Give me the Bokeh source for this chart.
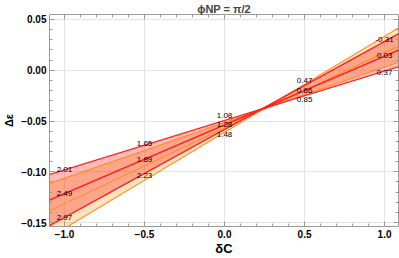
import numpy as np
from bokeh.plotting import figure
from bokeh.models import Range1d, FixedTicker, CustomJSTickFormatter, LinearAxis
from bokeh.embed import file_html
from bokeh.resources import INLINE
from bokeh.core.properties import value

# ---- data ----
dC = [-1.1, 1.1]
red_upper = [-0.1029, 0.0040]     # upper red line at the left end
red_mid = [-0.1282, 0.0206]
red_lower = [-0.1535, 0.0370]
orange_upper = [-0.1118, 0.0086]
orange_mid = [-0.1388, 0.0249]
orange_lower = [-0.1650, 0.0428]

label_dC = [-1.0, -0.5, 0.0, 0.5, 1.0]
row1_text = ["2.01", "1.65", "1.08", "0.47", "-0.31"]
row1_y = [-0.0981, -0.0721, -0.0442, -0.0106, 0.0298]
row2_text = ["2.49", "1.89", "1.28", "0.66", "0.03"]
row2_y = [-0.1212, -0.0880, -0.0538, -0.0197, 0.0141]
row3_text = ["2.97", "2.23", "1.48", "0.85", "0.37"]
row3_y = [-0.1447, -0.1034, -0.0635, -0.0293, -0.0019]

x_ticks = [-1.0, -0.5, 0.0, 0.5, 1.0]
y_ticks = [-0.15, -0.10, -0.05, 0.0, 0.05]
x_minor = [round(v, 2) for v in np.arange(-1.1, 1.11, 0.1)]
y_minor = [round(v, 3) for v in np.arange(-0.15, 0.051, 0.01)]

FRAME = "#9a9a9a"
RED = "#ff1a1a"
ORANGE = "#ff8c1a"

p = figure(width=399, height=258, title="ϕNP = π/2",
           x_range=Range1d(-1.0935, 1.087), y_range=Range1d(-0.1538, 0.0548),
           output_backend="svg", toolbar_location=None,
           min_border_left=47, min_border_right=1, min_border_top=0, min_border_bottom=0)
p.background_fill_color = "white"
p.border_fill_color = "white"
p.outline_line_color = FRAME

p.title.text_font = "Liberation Sans"
p.title.text_font_style = "bold"
p.title.text_font_size = "11px"
p.title.align = "center"
p.title.standoff = 0
p.title.offset = 0

fmt_x = CustomJSTickFormatter(code="return tick.toFixed(1).replace('-', '\\u2212');")
fmt_y = CustomJSTickFormatter(code="return tick.toFixed(2).replace('-', '\\u2212');")
empty = CustomJSTickFormatter(code="return '';")

xa = p.below[0]
ya = p.left[0]
xa.ticker = FixedTicker(ticks=x_ticks, minor_ticks=x_minor)
ya.ticker = FixedTicker(ticks=y_ticks, minor_ticks=y_minor)
xa.formatter = fmt_x
ya.formatter = fmt_y

top = LinearAxis(ticker=FixedTicker(ticks=x_ticks, minor_ticks=x_minor), formatter=empty)
right = LinearAxis(ticker=FixedTicker(ticks=y_ticks, minor_ticks=y_minor), formatter=empty)
p.add_layout(top, "above")
p.add_layout(right, "right")

for ax in (xa, ya, top, right):
    ax.axis_line_color = None
    ax.major_tick_in = 5
    ax.major_tick_out = 0
    ax.minor_tick_in = 3
    ax.minor_tick_out = 0
    ax.major_tick_line_color = FRAME
    ax.minor_tick_line_color = FRAME
    ax.major_label_text_font = "Liberation Sans"
    ax.major_label_text_font_style = "bold"
    ax.major_label_text_font_size = "10px"
    ax.major_label_text_color = "black"
top.major_label_standoff = 0
right.major_label_standoff = 0

xa.major_label_standoff = 3
xa.axis_label = "δC"
xa.axis_label_standoff = 0
xa.axis_label_text_font = "Liberation Sans"
xa.axis_label_text_font_style = "bold"
xa.axis_label_text_font_size = "13px"
xa.axis_label_text_color = "black"

ya.major_label_standoff = 3
ya.axis_label = "Δε"
ya.axis_label_standoff = 3
ya.axis_label_text_font = "Liberation Sans"
ya.axis_label_text_font_style = "bold"
ya.axis_label_text_font_size = "11px"
ya.axis_label_text_color = "black"

p.xgrid.ticker = FixedTicker(ticks=x_ticks)
p.ygrid.ticker = FixedTicker(ticks=y_ticks)
p.grid.grid_line_color = "#e4e4e4"
p.grid.grid_line_width = 1

# bands
p.varea(x=dC, y1=orange_upper, y2=orange_lower, fill_color="#ff8c00", fill_alpha=0.25)
p.varea(x=dC, y1=red_upper, y2=red_lower, fill_color="#ff0000", fill_alpha=0.27)

for ys in (orange_upper, orange_mid, orange_lower):
    p.line(dC, ys, line_color=ORANGE, line_width=1.1)
for ys in (red_upper, red_mid, red_lower):
    p.line(dC, ys, line_color=RED, line_width=1.3)

for txt, ys in ((row1_text, row1_y), (row2_text, row2_y), (row3_text, row3_y)):
    p.text(x=label_dC, y=ys, text=txt, text_font=value("Liberation Sans"),
           text_font_size="8px", text_align="center", text_baseline="middle",
           text_color="black")

open("out.html", "w").write(file_html(p, INLINE))
